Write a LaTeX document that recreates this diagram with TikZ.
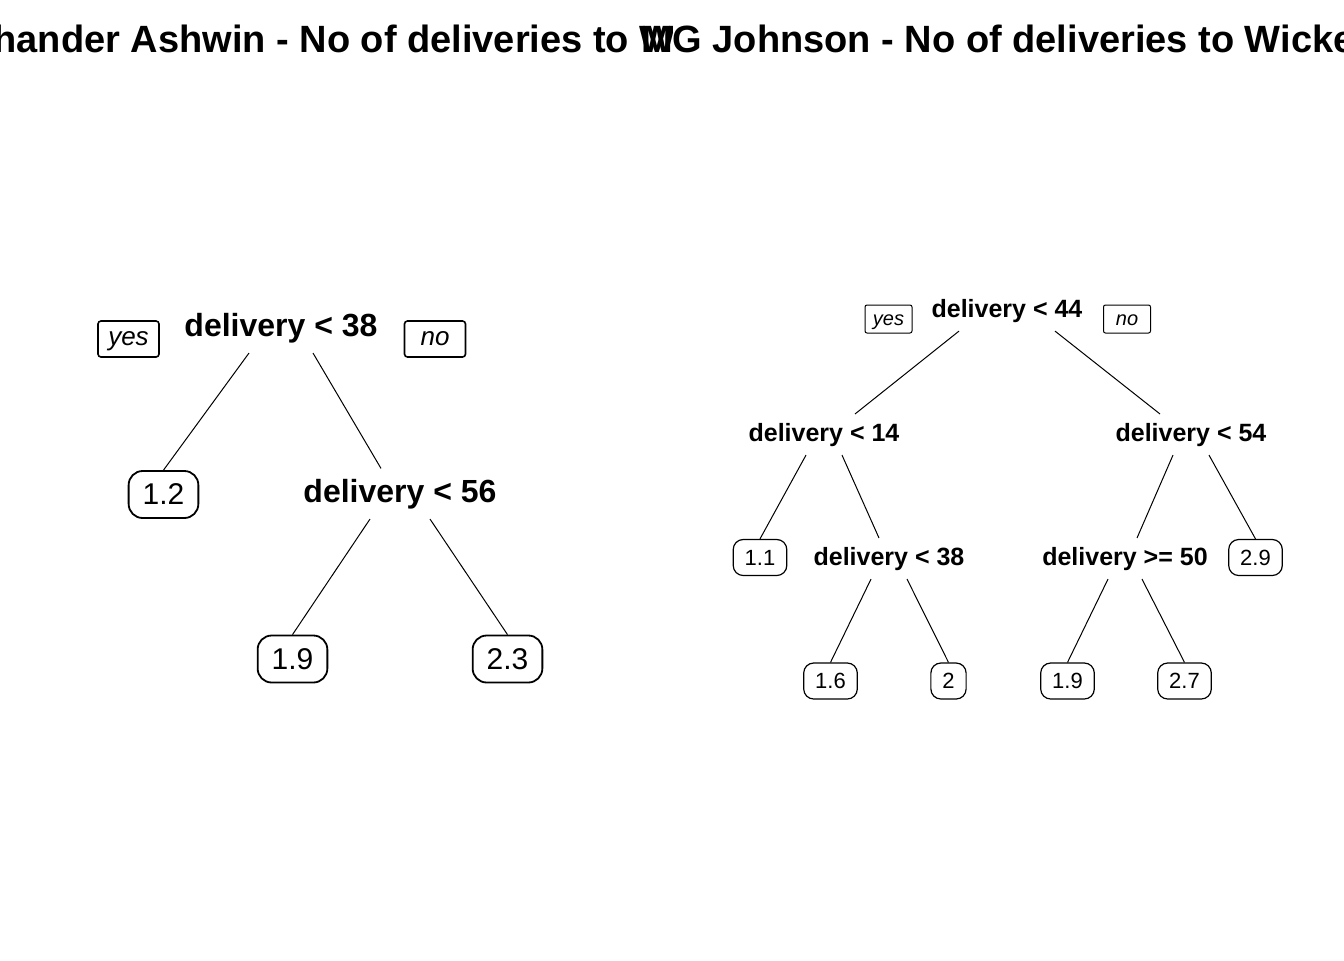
\documentclass[tikz,border=0pt]{standalone}
\usepackage{fontspec}
\setmainfont{Liberation Sans}
\begin{document}
\begin{tikzpicture}[x=0.5pt,y=-0.5pt,
  ttl/.style={font=\bfseries\fontsize{19}{23}\selectfont,anchor=base,inner sep=0pt},
  splitA/.style={font=\bfseries\fontsize{16}{19}\selectfont,anchor=base,inner xsep=0pt,inner ysep=5pt},
  splitB/.style={font=\bfseries\fontsize{12.5}{15}\selectfont,anchor=base,inner xsep=0pt,inner ysep=4.25pt},
  leafA/.style={draw,line width=0.9pt,rounded corners=7pt,font=\fontsize{15}{18}\selectfont,
    inner xsep=7pt,inner ysep=0pt,minimum height=23.5pt},
  leafB/.style={draw,line width=0.6pt,rounded corners=5pt,font=\fontsize{11}{13}\selectfont,
    inner xsep=5.75pt,inner ysep=0pt,minimum height=18pt},
  tagA/.style={draw,line width=0.8pt,rounded corners=1.5pt,font=\itshape\fontsize{13}{15}\selectfont,
    inner sep=0pt,text height=0.8em,text depth=0.2em,minimum width=30.5pt,minimum height=18pt},
  tagB/.style={draw,line width=0.5pt,rounded corners=1pt,font=\itshape\fontsize{10}{12}\selectfont,
    inner sep=0pt,text height=0.8em,text depth=0.2em,minimum width=23.5pt,minimum height=14pt},
  edge/.style={line width=0.5pt}]

\useasboundingbox[fill=white] (0,0) rectangle (1344,960);

\begin{scope}
\clip (0,0) rectangle (672,960);
\node[ttl] (tA) at (327,52) {Ravichander Ashwin - No of deliveries to Wicket};
\end{scope}
\node[ttl] (tB) at (1004,52) {MG Johnson - No of deliveries to Wicket};

\node[splitA] (rA) at (281,336) {delivery < 38};
\node[tagA] (yA) at (128.5,339) {yes};
\node[tagA] (nA) at (435,339) {no};
\node[leafA] (lA1) at (163.5,494.5) {1.2};
\node[splitA] (sA) at (400,502) {delivery < 56};
\node[leafA] (lA2) at (292.5,659) {1.9};
\node[leafA] (lA3) at (507.5,659) {2.3};

\draw[edge] ([xshift=-16pt]rA.south) -- (lA1.north);
\draw[edge] ([xshift=16pt]rA.south) -- ([xshift=-9.5pt]sA.north);
\draw[edge] ([xshift=-15pt]sA.south) -- (lA2.north);
\draw[edge] ([xshift=15pt]sA.south) -- (lA3.north);

\node[splitB] (rB) at (1007,317) {delivery < 44};
\node[tagB] (yB) at (888.5,319) {yes};
\node[tagB] (nB) at (1127,319) {no};
\node[splitB] (sB1) at (824,441) {delivery < 14};
\node[splitB] (sB2) at (1191,441) {delivery < 54};
\node[leafB] (lB1) at (760,557.5) {1.1};
\node[splitB] (sB3) at (889,565) {delivery < 38};
\node[splitB] (sB4) at (1125,565) {delivery >= 50};
\node[leafB] (lB2) at (1255.5,557.5) {2.9};
\node[leafB] (lB3) at (830.5,681) {1.6};
\node[leafB] (lB4) at (948.5,681) {2};
\node[leafB] (lB5) at (1067.5,681) {1.9};
\node[leafB] (lB6) at (1184.5,681) {2.7};

\draw[edge] ([xshift=-24pt]rB.south) -- ([xshift=15.5pt]sB1.north);
\draw[edge] ([xshift=24pt]rB.south) -- ([xshift=-15.5pt]sB2.north);
\draw[edge] ([xshift=-9pt]sB1.south) -- (lB1.north);
\draw[edge] ([xshift=9pt]sB1.south) -- ([xshift=-5pt]sB3.north);
\draw[edge] ([xshift=-9pt]sB2.south) -- ([xshift=6pt]sB4.north);
\draw[edge] ([xshift=9pt]sB2.south) -- (lB2.north);
\draw[edge] ([xshift=-9pt]sB3.south) -- (lB3.north);
\draw[edge] ([xshift=9pt]sB3.south) -- (lB4.north);
\draw[edge] ([xshift=-8.5pt]sB4.south) -- (lB5.north);
\draw[edge] ([xshift=8.5pt]sB4.south) -- (lB6.north);
\end{tikzpicture}
\end{document}
